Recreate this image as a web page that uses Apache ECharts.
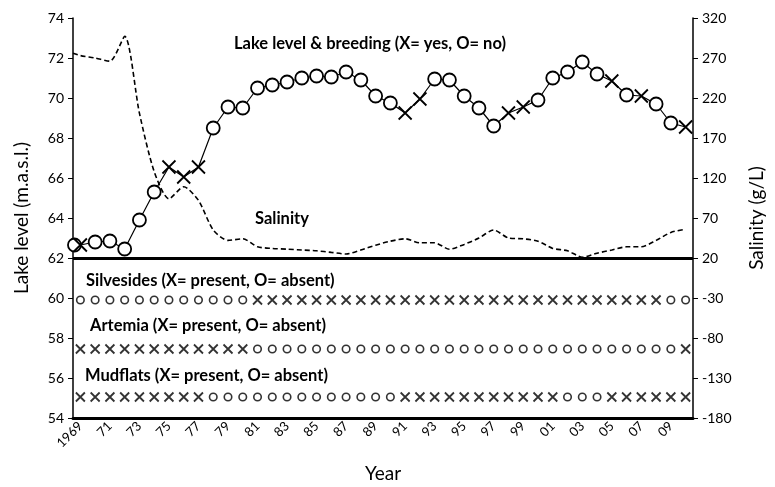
<!DOCTYPE html>
<html>
<head>
<meta charset="utf-8">
<script src="https://cdn.jsdelivr.net/npm/echarts@6/dist/echarts.min.js"></script>
<style>
html, body { margin: 0; padding: 0; background: #fff; }
#chart { width: 775px; height: 487px; }
</style>
</head>
<body>
<div id="chart"></div>
<script>
// category labels for the bottom axis
const years = ['1969','1970','1971','1972','1973','1974','1975','1976','1977','1978',
  '1979','1980','1981','1982','1983','1984','1985','1986','1987','1988',
  '1989','1990','1991','1992','1993','1994','1995','1996','1997','1998',
  '1999','2000','2001','2002','2003','2004','2005','2006','2007','2008',
  '2009','2010']

// lake level (m a.s.l.) and breeding (X = yes, O = no)
const lakeYears = [1968.6, 1969, 1970, 1971, 1972, 1973, 1974, 1975, 1976, 1977, 1978,
  1979, 1980, 1981, 1982, 1983, 1984, 1985, 1986, 1987, 1988,
  1989, 1990, 1991, 1992, 1993, 1994, 1995, 1996, 1997, 1998,
  1999, 2000, 2001, 2002, 2003, 2004, 2005, 2006, 2007, 2008,
  2009, 2010]
const lakeLevel = [62.65, 62.65, 62.8, 62.85, 62.45, 63.9, 65.3, 66.55, 66.05, 66.55, 68.5,
  69.55, 69.5, 70.5, 70.65, 70.8, 71.0, 71.1, 71.05, 71.3, 70.9,
  70.1, 69.75, 69.25, 69.95, 70.95, 70.9, 70.1, 69.5, 68.6, 69.25,
  69.55, 69.9, 71.0, 71.3, 71.8, 71.2, 70.85, 70.15, 70.1, 69.7,
  68.75, 68.55]
const breeding = ['O', 'X', 'O', 'O', 'O', 'O', 'O', 'X', 'X', 'X', 'O',
  'O', 'O', 'O', 'O', 'O', 'O', 'O', 'O', 'O', 'O',
  'O', 'O', 'X', 'X', 'O', 'O', 'O', 'O', 'O', 'X',
  'X', 'O', 'O', 'O', 'O', 'O', 'X', 'O', 'X', 'O',
  'O', 'X']

// salinity (g/L)
const salYears = [1968.5, 1969, 1970, 1971, 1972, 1973, 1974, 1975, 1976, 1977, 1978,
  1979, 1980, 1981, 1982, 1983, 1984, 1985, 1986, 1987, 1988,
  1989, 1990, 1991, 1992, 1993, 1994, 1995, 1996, 1997, 1998,
  1999, 2000, 2001, 2002, 2003, 2004, 2005, 2006, 2007, 2008,
  2009, 2010]
const salinity = [276, 273, 270, 266, 297, 201, 128, 94, 109, 92, 55,
  42, 44, 34, 32, 31, 30, 29, 27, 25, 30,
  36, 41, 44, 39, 39, 31, 37, 45, 55, 45,
  44, 41, 32, 29, 21, 26, 30, 34, 34, 42,
  52, 56]

// presence rows, 1969-2010 (X = present, O = absent)
const silversides = 'OOOOOOOOOOOOXXXXXXXXXXXXXXXXXXXXXXXXXXXXOO'.split('')
const artemia     = 'XXXXXXXXXXXXOOOOOOOOOOOOOOOOOOOOOOOOOOOOOX'.split('')
const mudflats    = 'XXXXXXXXXOOOOOOOOOOOOOXXXXXXXXXXXOOOXXXXXX'.split('')
const rowLevels = [59.9, 57.45, 55.05]

const crossPath = 'path://M0,0L10,10M10,0L0,10'

const mark = (flag, big) => flag === 'X'
  ? { symbol: crossPath, symbolSize: big ? 13 : 9,
      itemStyle: { color: 'none', borderColor: '#000', borderWidth: big ? 1.8 : 1.8 } }
  : { symbol: 'circle', symbolSize: big ? 13 : 7.5,
      itemStyle: { color: '#fff', borderColor: '#000', borderWidth: big ? 1.8 : 1.6 } }

const rowSeries = (flags, level) => ({
  type: 'scatter',
  xAxisIndex: 1,
  yAxisIndex: 0,
  silent: true,
  data: flags.map((f, i) => ({ value: [Number(years[i]), level], ...mark(f, false) }))
})

const chart = echarts.init(document.getElementById('chart'))
const font = 'Lato, "Open Sans", sans-serif'
const labelFont = 'bold 16.5px ' + font

chart.setOption({
  animation: false,
  backgroundColor: '#fff',
  textStyle: { fontFamily: font, color: '#000' },
  grid: { left: 73, right: 82, top: 18, bottom: 69, containLabel: false, outerBoundsMode: 'none' },
  xAxis: [
    {
      type: 'category',
      data: years,
      boundaryGap: true,
      name: 'Year',
      nameLocation: 'middle',
      nameGap: 46,
      nameTextStyle: { fontSize: 19, color: '#000', fontFamily: font },
      axisLine: { onZero: false, lineStyle: { color: '#000', width: 3 } },
      axisTick: { interval: 0, length: 5, lineStyle: { color: '#000', width: 2 } },
      axisLabel: {
        interval: 1,
        rotate: 45,
        margin: 6,
        fontSize: 13,
        color: '#000',
        fontFamily: font,
        formatter: (v, i) => i === 0 ? v : v.slice(2)
      },
      splitLine: { show: false }
    },
    { type: 'value', min: 1968.5, max: 2010.5, show: false }
  ],
  yAxis: [
    {
      type: 'value',
      min: 54,
      max: 74,
      interval: 2,
      name: 'Lake level (m.a.s.l.)',
      nameLocation: 'middle',
      nameGap: 42,
      nameTextStyle: { fontSize: 19, color: '#000', fontFamily: font },
      axisLine: { show: true, lineStyle: { color: '#000', width: 1.5 } },
      axisTick: { show: true, length: 5, lineStyle: { color: '#000' } },
      axisLabel: { fontSize: 14, color: '#000', margin: 9, fontFamily: font },
      splitLine: { show: false }
    },
    {
      type: 'value',
      position: 'right',
      min: -180,
      max: 320,
      interval: 50,
      name: 'Salinity (g/L)',
      nameLocation: 'middle',
      nameRotate: 90,
      nameGap: 54,
      nameTextStyle: { fontSize: 19, color: '#000', fontFamily: font },
      axisLine: { show: true, lineStyle: { color: '#000', width: 1.5 } },
      axisTick: { show: true, length: 5, lineStyle: { color: '#000' } },
      axisLabel: { fontSize: 14, color: '#000', margin: 9, fontFamily: font },
      splitLine: { show: false }
    }
  ],
  series: [
    {
      name: 'Salinity',
      type: 'line',
      xAxisIndex: 1,
      yAxisIndex: 1,
      smooth: 0.25,
      symbol: 'none',
      lineStyle: { color: '#000', width: 1.6, type: [5, 3] },
      data: salYears.map((y, i) => [y, salinity[i]])
    },
    {
      name: 'Lake level',
      type: 'line',
      xAxisIndex: 1,
      yAxisIndex: 0,
      showAllSymbol: true,
      lineStyle: { color: '#000', width: 1.2 },
      data: lakeYears.map((y, i) => ({ value: [y, lakeLevel[i]], ...mark(breeding[i], true) })),
      markLine: {
        silent: true,
        symbol: 'none',
        label: { show: false },
        lineStyle: { color: '#000', width: 3, type: 'solid' },
        data: [{ yAxis: 62 }]
      },
      z: 3
    },
    rowSeries(silversides, rowLevels[0]),
    rowSeries(artemia, rowLevels[1]),
    rowSeries(mudflats, rowLevels[2])
  ],
  graphic: [
    { type: 'text', left: 234, top: 35, style: { text: 'Lake level & breeding (X= yes, O= no)', font: labelFont, fill: '#000' } },
    { type: 'text', left: 255, top: 210, style: { text: 'Salinity', font: labelFont, fill: '#000' } },
    { type: 'text', left: 86, top: 272, style: { text: 'Silvesides (X= present, O= absent)', font: labelFont, fill: '#000' } },
    { type: 'text', left: 90, top: 317, style: { text: 'Artemia (X= present, O= absent)', font: labelFont, fill: '#000' } },
    { type: 'text', left: 85, top: 367, style: { text: 'Mudflats (X= present, O= absent)', font: labelFont, fill: '#000' } }
  ]
})
</script>
</body>
</html>
